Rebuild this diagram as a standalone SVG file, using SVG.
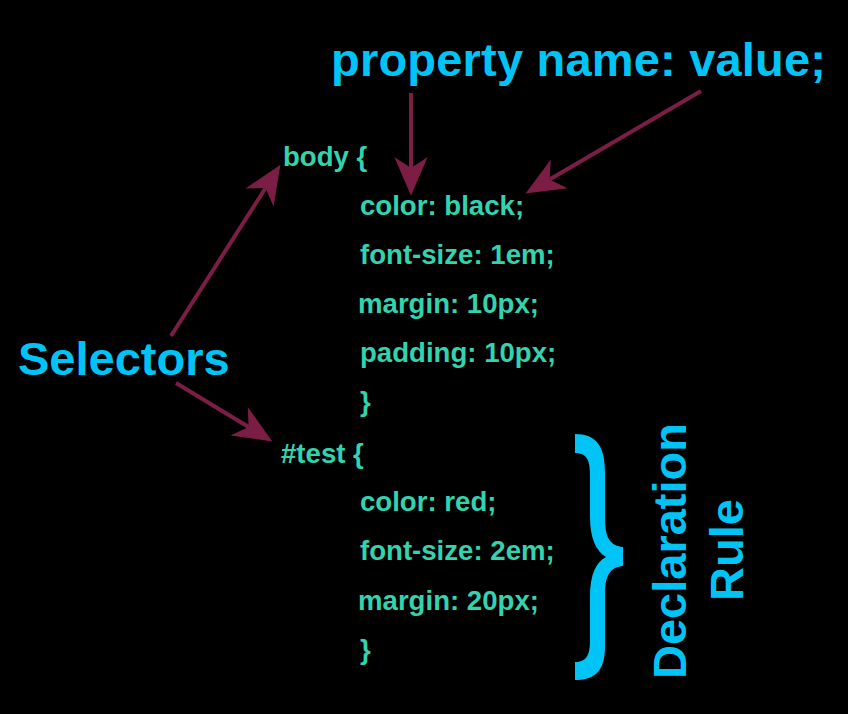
<svg xmlns="http://www.w3.org/2000/svg" width="848" height="714" viewBox="0 0 848 714">
<style>
.code{font-family:"Liberation Sans",Arial,sans-serif;font-weight:bold;font-size:27.6px;fill:#33d3b0}
.lbl{font-family:"Liberation Sans",Arial,sans-serif;font-weight:bold;font-size:47px;fill:#00c4f5}
.arr{stroke:#7c1d45;stroke-width:4;fill:none;marker-end:url(#ah)}
</style>
<defs>
<marker id="ah" markerUnits="userSpaceOnUse" orient="auto" markerWidth="50" markerHeight="40" refX="0" refY="0" viewBox="-12 -18 40 36" overflow="visible">
<path d="M25,0 L-10,-15 L0,0 L-10,15 Z" fill="#7c1d45"/>
</marker>
</defs>
<rect width="848" height="714" fill="#000"/>
<g id="connectors">
<line class="arr" x1="411" y1="93" x2="411" y2="168"/>
<line class="arr" x1="701" y1="91" x2="549.6" y2="179.4"/>
<line class="arr" x1="171" y1="336" x2="265.5" y2="188.1"/>
<line class="arr" x1="176" y1="383" x2="248.6" y2="427"/>
</g>
<g id="title"><text class="lbl" x="331" y="76" textLength="495" lengthAdjust="spacing">property name: value;</text></g>
<g id="selectors"><text class="lbl" x="18" y="375">Selectors</text></g>
<g id="body-rule">
<text class="code" x="283" y="166">body {</text>
<text class="code" x="360" y="215">color: black;</text>
<text class="code" x="360" y="264">font-size: 1em;</text>
<text class="code" x="358" y="313">margin: 10px;</text>
<text class="code" x="360" y="362">padding: 10px;</text>
<text class="code" x="360" y="411">}</text>
</g>
<g id="test-rule">
<text class="code" x="281" y="463">#test {</text>
<text class="code" x="360" y="511">color: red;</text>
<text class="code" x="360" y="560">font-size: 2em;</text>
<text class="code" x="358" y="610">margin: 20px;</text>
<text class="code" x="360" y="659">}</text>
</g>
<g id="brace">
<path fill="#00c4f5" d="M575,434 C596,434 605,446 605,472 L605,520 C605,538 611,546 623,547 L623,566 C611,567 605,575 605,593 L605,646 C605,670 596,680 575,680 L575,662 C586,662 590,656 590,640 L590,596 C590,575 596,562 606,557 C596,551 590,538 590,517 L590,474 C590,459 586,453 575,453 Z"/>
</g>
<g id="declaration-label">
<text class="lbl" text-anchor="middle" transform="translate(686,551) rotate(-90)">Declaration</text>
<text class="lbl" text-anchor="middle" transform="translate(743,550) rotate(-90)">Rule</text>
</g>
</svg>
